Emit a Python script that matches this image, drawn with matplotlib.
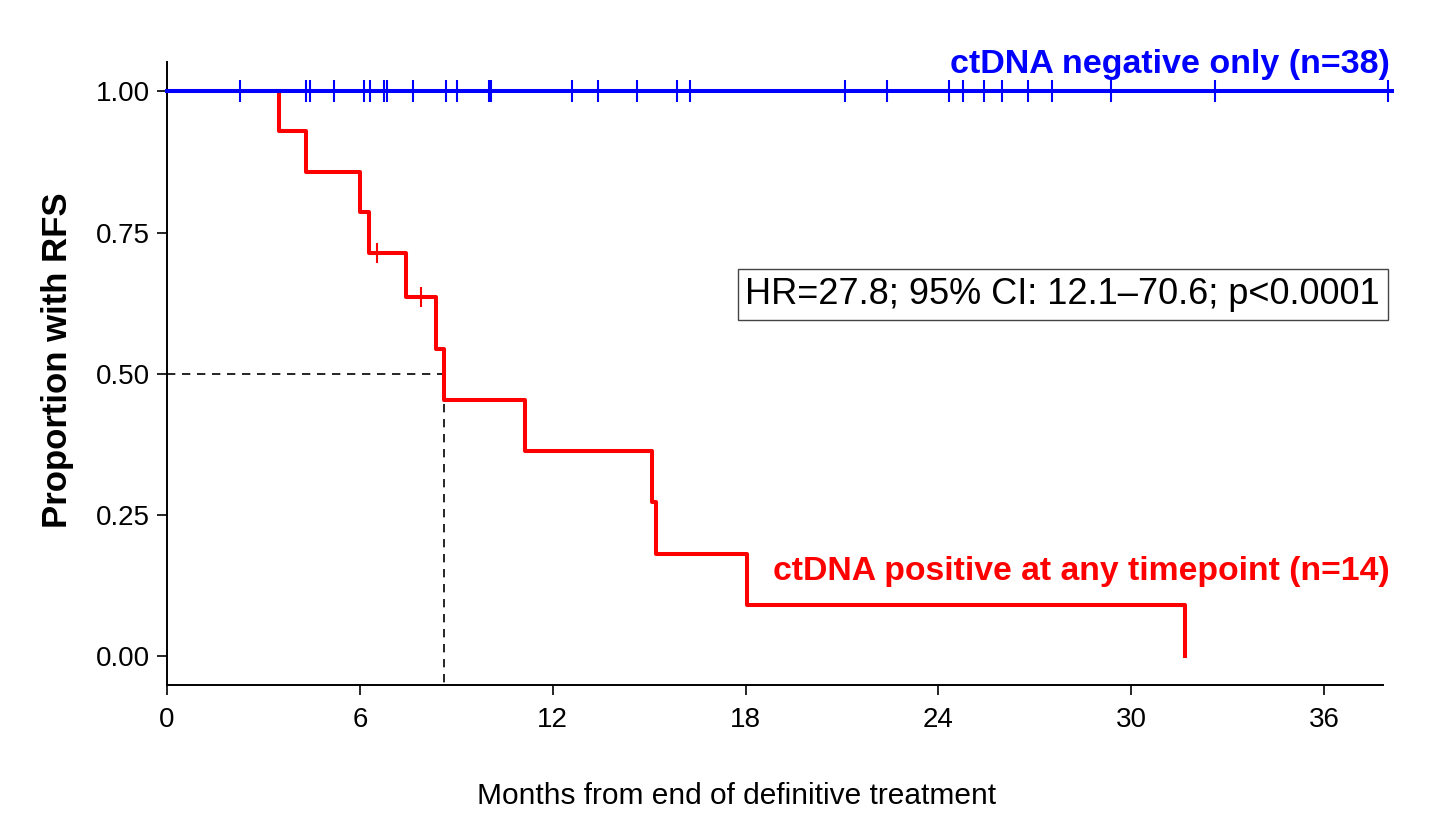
import numpy as np
import matplotlib
matplotlib.use("Agg")
import matplotlib.pyplot as plt

plt.rcParams['font.family'] = ['Liberation Sans', 'DejaVu Sans']

# ctDNA positive group: event times (months) and KM survival after each drop
pos_times = [0, 3.48, 4.31, 5.99, 6.27, 7.44, 8.37, 8.62, 11.14, 15.08, 15.21, 18.04, 31.67]
pos_surv = [1.0, 0.929, 0.857, 0.786, 0.714, 0.635, 0.544, 0.454, 0.363, 0.272, 0.181, 0.091, 0.0]
pos_censor = [6.53, 7.90]

# ctDNA negative group: no events, only censoring times
neg_end = 38.1
neg_censor = [2.26, 4.31, 4.44, 5.18, 6.12, 6.32, 6.74, 6.84, 7.66, 8.69, 9.01,
              10.02, 10.07, 12.61, 13.41, 14.62, 15.87, 16.27, 21.08, 22.39,
              24.32, 24.77, 25.43, 25.97, 26.80, 27.52, 29.38, 32.61, 38.0]

median_pos = 8.62
xticks = [0, 6, 12, 18, 24, 30, 36]
yticks = [0.0, 0.25, 0.5, 0.75, 1.0]

fig = plt.figure(figsize=(14.5, 8.24), dpi=100)
ax = fig.add_axes([0.1152, 0.1687, 0.9538 - 0.1152, 0.9248 - 0.1687])

red = '#ff0000'
blue = '#0000ff'

# red curve
ax.step(pos_times, pos_surv, where='post', color=red, lw=2.9, zorder=3)
cens_y = [pos_surv[np.searchsorted(pos_times, t, side='right') - 1] for t in pos_censor]
ax.plot(pos_censor, cens_y, ls='none', marker='|', ms=15, mew=1.5, color=red, zorder=3)

# blue curve (drawn on top)
ax.plot([0, neg_end], [1, 1], color=blue, lw=2.9, zorder=4, clip_on=False)
ax.plot(neg_censor, [1] * len(neg_censor), ls='none', marker='|', ms=16, mew=1.5,
        color=blue, zorder=4, clip_on=False)

# median lines
ax.plot([0, median_pos], [0.5, 0.5], color='black', lw=1.2, ls=(0, (5, 4)), zorder=2)
ax.plot([median_pos, median_pos], [0.5, -0.0514], color='black', lw=1.2, ls=(0, (5, 4)), zorder=2)

ax.set_xlim(0, 37.83)
ax.set_ylim(-0.0514, 1.0521)
ax.set_xticks(xticks)
ax.set_yticks(yticks)
ax.set_yticklabels(['%.2f' % v for v in yticks])
ax.tick_params(axis='both', direction='out', length=7, width=1.2, labelsize=20, pad=5)
ax.tick_params(axis='x', pad=9)

for s in ['top', 'right']:
    ax.spines[s].set_visible(False)
for s in ['left', 'bottom']:
    ax.spines[s].set_linewidth(1.4)

ax.set_xlabel('Months from end of definitive treatment', fontsize=21.5)
ax.xaxis.set_label_coords(0.468, -0.155)
ax.set_ylabel('Proportion with RFS', fontsize=25, fontweight='bold')
ax.yaxis.set_label_coords(-0.0765, 0.522)

ax.text(38.05, 1.02, 'ctDNA negative only (n=38)', ha='right', va='bottom',
        color=blue, fontsize=24.5, fontweight='bold', clip_on=False)
ax.text(38.05, 0.15, 'ctDNA positive at any timepoint (n=14)', ha='right', va='center',
        color=red, fontsize=24.3, fontweight='bold', clip_on=False)

ax.text(37.74, 0.64, 'HR=27.8; 95% CI: 12.1\u201370.6; p<0.0001',
        ha='right', va='center', fontsize=26,
        bbox=dict(boxstyle='square,pad=0.22', fc='white', ec='#444444', lw=1.0))

fig.savefig('out.png', dpi=100)
